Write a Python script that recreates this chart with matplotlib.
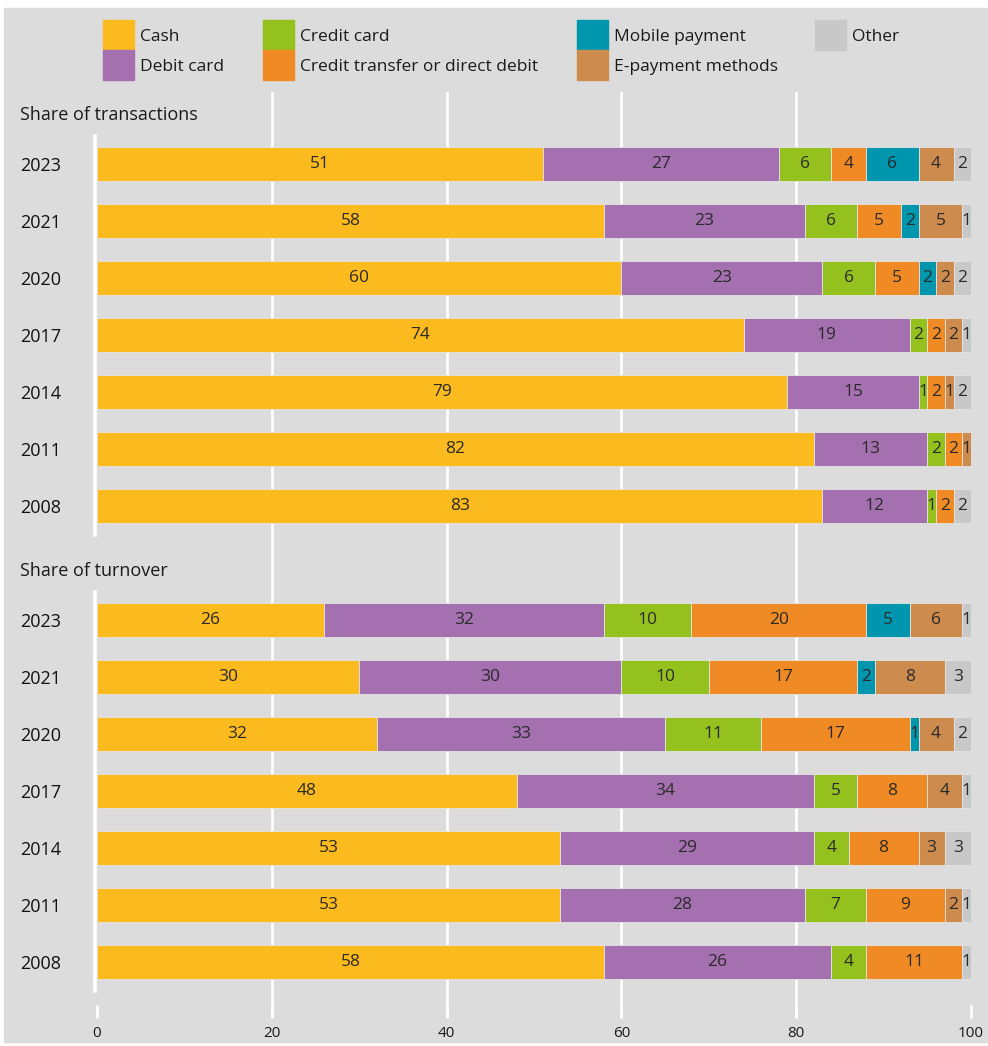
import numpy as np
import matplotlib.pyplot as plt
from matplotlib.patches import Rectangle

plt.rcParams['font.family'] = ['Open Sans', 'DejaVu Sans']

years = ['2023', '2021', '2020', '2017', '2014', '2011', '2008']
methods = ['Cash', 'Debit card', 'Credit card', 'Credit transfer or direct debit',
           'Mobile payment', 'E-payment methods', 'Other']
colors = ['#FBBA1E', '#A470AF', '#95C11F', '#F08A24', '#0096AD', '#CD8B4E', '#C8C8C8']

# share of transactions (%), years in the order above
tx_cash = [51, 58, 60, 74, 79, 82, 83]
tx_debit = [27, 23, 23, 19, 15, 13, 12]
tx_credit = [6, 6, 6, 2, 1, 2, 1]
tx_transfer = [4, 5, 5, 2, 2, 2, 2]
tx_mobile = [6, 2, 2, 0, 0, 0, 0]
tx_epay = [4, 5, 2, 2, 1, 1, 0]
tx_other = [2, 1, 2, 1, 2, 0, 2]

# share of turnover (%)
to_cash = [26, 30, 32, 48, 53, 53, 58]
to_debit = [32, 30, 33, 34, 29, 28, 26]
to_credit = [10, 10, 11, 5, 4, 7, 4]
to_transfer = [20, 17, 17, 8, 8, 9, 11]
to_mobile = [5, 2, 1, 0, 0, 0, 0]
to_epay = [6, 8, 4, 4, 3, 2, 0]
to_other = [1, 3, 2, 1, 3, 1, 1]

tx = [tx_cash, tx_debit, tx_credit, tx_transfer, tx_mobile, tx_epay, tx_other]
to = [to_cash, to_debit, to_credit, to_transfer, to_mobile, to_epay, to_other]

W, H = 988, 1046
BG = '#DCDCDC'
TXT = '#1A1A1A'


def fx(px):
    return px / W


def fy(py):
    return 1 - py / H


fig = plt.figure(figsize=(W / 100, H / 100), dpi=100, facecolor='white')
fig.add_artist(Rectangle((fx(4), fy(1042)), fx(988) - fx(4), fy(8) - fy(1042),
                         transform=fig.transFigure, color=BG, zorder=-10))

# background axis: grid lines and the percentage scale
x0, x1 = 97, 971
ax_bg = fig.add_axes([fx(x0), fy(1018), (x1 - x0) / W, (1018 - 92) / H])
ax_bg.set_xlim(0, 100)
ax_bg.set_ylim(0, 1)
ax_bg.patch.set_visible(False)
for s in ax_bg.spines.values():
    s.set_visible(False)
ax_bg.set_yticks([])
ax_bg.set_xticks([0, 20, 40, 60, 80, 100])
ax_bg.tick_params(axis='x', direction='in', length=9.5, width=2, color='white',
                  labelsize=11, labelcolor=TXT, pad=6)
for v in [20, 40, 60, 80]:
    ax_bg.axvline(v, color='white', lw=2)


def panel(top_px, data):
    ax = fig.add_axes([fx(x0), fy(top_px + 399), (x1 - x0) / W, 399 / H])
    ax.patch.set_visible(False)
    ax.set_xlim(0, 100)
    ax.set_ylim(6.5, -0.5)
    y = np.arange(len(years))
    left = np.zeros(len(years))
    for vals, c in zip(data, colors):
        bars = ax.barh(y, vals, left=left, height=0.61, color=c,
                       edgecolor='#E4E4E4', linewidth=0.6)
        ax.bar_label(bars, labels=[str(v) if v else '' for v in vals],
                     label_type='center', fontsize=12.5, color='#2A2A2A')
        left += np.array(vals)
    ax.axvline(-0.25, color='white', lw=2.6, clip_on=False)
    for s in ax.spines.values():
        s.set_visible(False)
    ax.set_xticks([])
    ax.set_yticks(y, years)
    ax.tick_params(axis='y', length=0, pad=55.5, labelsize=13)
    for lab in ax.get_yticklabels():
        lab.set_horizontalalignment('left')
        lab.set_fontweight('medium')
        lab.set_color('#111111')
    return ax


panel(135.5, tx)
panel(591.5, to)

fig.text(fx(20), fy(115), 'Share of transactions', va='center', ha='left',
         fontsize=13, color=TXT)
fig.text(fx(20), fy(571), 'Share of turnover', va='center', ha='left',
         fontsize=13, color=TXT)

# legend, two rows
col_x = [103, 263, 577, 815]
for i, (m, c) in enumerate(zip(methods, colors)):
    cx = col_x[i // 2]
    ry = 20 + 30 * (i % 2)
    fig.add_artist(Rectangle((fx(cx), fy(ry + 30)), 31 / W, 30 / H,
                             transform=fig.transFigure, color=c))
    fig.text(fx(cx + 37), fy(ry + 17), m, va='center', ha='left',
             fontsize=12.5, color=TXT)

fig.savefig('out.png', dpi=100, facecolor=fig.get_facecolor())
